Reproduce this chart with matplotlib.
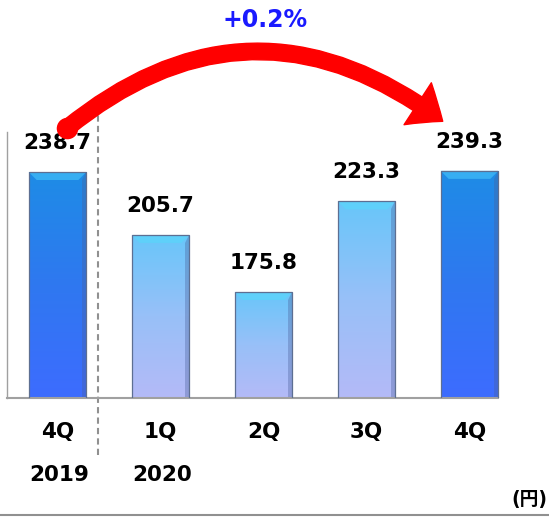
import numpy as np
import matplotlib.pyplot as plt
from matplotlib.patches import FancyArrowPatch, Polygon
from matplotlib.colors import LinearSegmentedColormap
from matplotlib.lines import Line2D

quarters = ['4Q', '1Q', '2Q', '3Q', '4Q']
years = ['2019', '2020', '', '', '']
values = [238.7, 205.7, 175.8, 223.3, 239.3]
highlight = [True, False, False, False, True]
change_label = '+0.2%'
unit_label = '(円)'

W, H = 549, 518
fig = plt.figure(figsize=(W / 100, H / 100), dpi=100)
base_px = 398
ax = fig.add_axes([0, (H - base_px) / H, 1, base_px / H])

px_per_unit = 1.907
y0 = 120.2
spacing = 103.0
x0_px = 57.5
xlim = (-x0_px / spacing, (W - x0_px) / spacing)
ylim = (y0, y0 + base_px / px_per_unit)

for s in ['top', 'right']:
    ax.spines[s].set_visible(False)
ax.spines['bottom'].set_color('#a0a0a0')
ax.spines['bottom'].set_linewidth(1.5)
ax.spines['bottom'].set_bounds(-0.49, 4.28)
ax.spines['left'].set_color('#a0a0a0')
ax.spines['left'].set_linewidth(1.0)
ax.spines['left'].set_bounds(y0, 259.7)
ax.spines['left'].set_position(('data', -0.49))
ax.set_xticks([])
ax.set_yticks([])
ax.patch.set_alpha(0)

dark_cmap = LinearSegmentedColormap.from_list('dark', ['#3d6cff', '#2f78f0', '#1e8ce6'])
light_cmap = LinearSegmentedColormap.from_list('light', ['#b4baf7', '#98c0f8', '#68c6fa'])
grad = np.linspace(0, 1, 256).reshape(-1, 1)

bar_w = 0.56
bars = ax.bar(range(len(values)), values, width=bar_w, bottom=0, color='none',
              edgecolor='#5d6f92', linewidth=0.9, zorder=3)
for i, (b, v, hl) in enumerate(zip(bars, values, highlight)):
    im = ax.imshow(grad, cmap=dark_cmap if hl else light_cmap, origin='lower',
                   extent=[i - bar_w / 2, i + bar_w / 2, y0, v], aspect='auto', zorder=2)
    im.set_clip_path(b)
    # top bevel
    bev_h = 8 / px_per_unit
    bev_x = 8 / spacing
    top_col = '#37aef2' if hl else '#5fd0fa'
    ax.add_patch(Polygon([[i - bar_w / 2, v], [i + bar_w / 2, v],
                          [i + bar_w / 2 - bev_x, v - bev_h], [i - bar_w / 2 + bev_x, v - bev_h]],
                         closed=True, facecolor=top_col, edgecolor='none', zorder=2.5))
    # right side shade
    ax.add_patch(Polygon([[i + bar_w / 2, v], [i + bar_w / 2, y0],
                          [i + bar_w / 2 - 4 / spacing, y0], [i + bar_w / 2 - 4 / spacing, v - bev_h]],
                         closed=True, facecolor='#4a5f9a', alpha=0.35, edgecolor='none', zorder=2.5))
    ax.annotate(f'{v:.1f}', (i, v), xytext=(0, 21), textcoords='offset points',
                ha='center', va='center', fontsize=15.5, fontweight='bold', color='black')
    ax.annotate(quarters[i], (i, y0), xytext=(0, -24.5), textcoords='offset points',
                ha='center', va='center', fontsize=15.5, fontweight='bold', color='black',
                annotation_clip=False)
    if years[i]:
        ax.annotate(years[i], (i, y0), xytext=(1.5, -55.5), textcoords='offset points',
                    ha='center', va='center', fontsize=15.5, fontweight='bold', color='black',
                    annotation_clip=False)

ax.set_xlim(*xlim)
ax.set_ylim(*ylim)

# year separator
ax.plot([0.393, 0.393], [273.8, 90.3], color='#909090', lw=1.5, ls=(0, (3, 2)),
        clip_on=False, zorder=1)

# change arrow from first to last bar
start = (0.09, values[0] + 23)
end = (3.74, values[-1] + 26)
arrow = FancyArrowPatch(start, end, connectionstyle='arc3,rad=-0.39',
                        arrowstyle='simple,head_length=0.55,head_width=0.9,tail_width=0.29',
                        mutation_scale=40, color='#ff0000', shrinkA=0, shrinkB=0, zorder=4,
                        clip_on=False)
ax.add_patch(arrow)
ax.plot(*start, marker='o', ms=15.5, mew=0, color='#ff0000', zorder=4, clip_on=False)

fig.text(265 / W, 1 - 20 / H, change_label, ha='center', va='center', fontsize=17,
         fontweight='bold', color='#1a1aff')
fig.text(547 / W, 1 - 500 / H, unit_label, ha='right', va='center', fontsize=13.5,
         fontweight='bold', family=['DejaVu Sans', 'Noto Sans CJK JP'])
fig.add_artist(Line2D([0, 1], [1 - 515 / H, 1 - 515 / H], color='#909090', lw=1.5))

fig.savefig('out.png', dpi=100)
